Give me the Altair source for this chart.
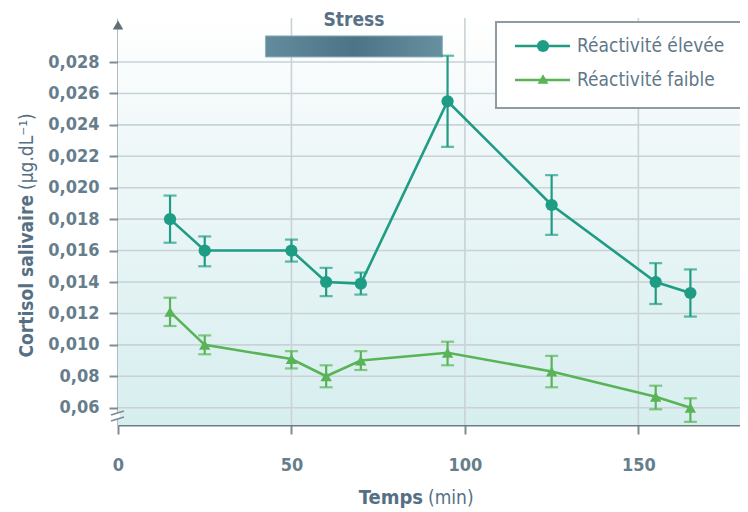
import altair as alt
import pandas as pd

# ---------------- data ----------------
time = [15, 25, 50, 60, 70, 95, 125, 155, 165]
high_mean = [0.0180, 0.0160, 0.0160, 0.0140, 0.0139, 0.0255, 0.0189, 0.0140, 0.0133]
high_lo = [0.0165, 0.0150, 0.0153, 0.0131, 0.0132, 0.0226, 0.0170, 0.0126, 0.0118]
high_hi = [0.0195, 0.0169, 0.0167, 0.0149, 0.0146, 0.0284, 0.0208, 0.0152, 0.0148]
low_mean = [0.0121, 0.0100, 0.0091, 0.0080, 0.0090, 0.0095, 0.0083, 0.0067, 0.0060]
low_lo = [0.0112, 0.0094, 0.0085, 0.0073, 0.0084, 0.0087, 0.0073, 0.0059, 0.0051]
low_hi = [0.0130, 0.0106, 0.0096, 0.0087, 0.0096, 0.0102, 0.0093, 0.0074, 0.0066]
series_names = ["Réactivité élevée", "Réactivité faible"]

y_tick_values = [0.006, 0.008, 0.010, 0.012, 0.014, 0.016, 0.018, 0.020, 0.022, 0.024, 0.026, 0.028]
y_tick_labels = ["0,06", "0,08", "0,010", "0,012", "0,014", "0,016", "0,018", "0,020",
                 "0,022", "0,024", "0,026", "0,028"]
x_tick_values = [0, 50, 100, 150]
x_grid_values = [50, 100, 150]

stress_start, stress_end = 42.5, 93.5
stress_label = "Stress"

# ---------------- style ----------------
W, H = 622, 407
FONT = "Liberation Sans Narrow, DejaVu Sans Condensed, DejaVu Sans, sans-serif"
C_HIGH = "#1f9c84"
C_LOW = "#58b456"
C_TEXT = "#667d8c"
C_TITLE = "#557084"
C_GRID = "#c9d2d7"
C_AXIS = "#7d8d96"

xscale = alt.Scale(domain=[0, 179.3], nice=False, zero=False)
yscale = alt.Scale(domain=[0.0049, 0.0308], nice=False, zero=False)

label_map = "{" + ",".join(f"'{v:.3f}':'{l}'" for v, l in zip(y_tick_values, y_tick_labels)) + "}"
label_expr = f"{label_map}[format(datum.value, '.3f')]"

XAXIS = alt.Axis(values=x_tick_values, grid=False, title=None, domainColor="#6c7c85",
                 domainWidth=2.2, tickColor=C_AXIS, tickWidth=2, tickSize=9,
                 labelFont=FONT, labelFontSize=18, labelColor=C_TEXT, labelFlush=False,
                 labelPadding=22, labelFontWeight="bold")
YAXIS = alt.Axis(values=y_tick_values, grid=False, title=None, labelExpr=label_expr,
                 domainColor=C_AXIS, domainWidth=2.2, tickColor=C_AXIS, tickWidth=2,
                 tickSize=9, labelFont=FONT, labelFontSize=18, labelColor=C_TEXT,
                 labelPadding=10, labelFontWeight="bold")


def X(field):
    return alt.X(field, scale=xscale, axis=XAXIS)


def Y(field):
    return alt.Y(field, scale=yscale, axis=YAXIS)


rows = []
for i, t in enumerate(time):
    rows.append({"t": t, "serie": series_names[0], "m": high_mean[i], "lo": high_lo[i], "hi": high_hi[i]})
for i, t in enumerate(time):
    rows.append({"t": t, "serie": series_names[1], "m": low_mean[i], "lo": low_lo[i], "hi": low_hi[i]})
df = pd.DataFrame(rows)
df_high = df[df.serie == series_names[0]]
df_low = df[df.serie == series_names[1]]

one = pd.DataFrame({"a": [0]})

# background gradient
bg = alt.Chart(one).mark_rect(
    fill=alt.LinearGradient(gradient="linear",
                            stops=[alt.GradientStop(color="#ffffff", offset=0),
                                   alt.GradientStop(color="#f0f8f9", offset=0.3),
                                   alt.GradientStop(color="#d7eeef", offset=1)],
                            x1=0, x2=0, y1=0, y2=1)
).encode(x=alt.value(0), x2=alt.value(W), y=alt.value(0), y2=alt.value(H))

hgrid = alt.Chart(pd.DataFrame({"v": y_tick_values})).mark_rule(
    color=C_GRID, strokeWidth=1.6).encode(y=Y("v:Q"))
vgrid = alt.Chart(pd.DataFrame({"v": x_grid_values})).mark_rule(
    color=C_GRID, strokeWidth=1.6).encode(x=X("v:Q"))


def series_layers(d, color, shape, size):
    line = alt.Chart(d).mark_line(color=color, strokeWidth=2.6).encode(x=X("t:Q"), y=Y("m:Q"))
    err = alt.Chart(d).mark_rule(color=color, strokeWidth=2.2).encode(x=X("t:Q"), y=Y("lo:Q"), y2="hi:Q")
    cap_lo = alt.Chart(d).mark_tick(color=color, orient="horizontal", size=13, thickness=2.2).encode(
        x=X("t:Q"), y=Y("lo:Q"))
    cap_hi = alt.Chart(d).mark_tick(color=color, orient="horizontal", size=13, thickness=2.2).encode(
        x=X("t:Q"), y=Y("hi:Q"))
    pts = alt.Chart(d).mark_point(filled=True, opacity=1, color=color, shape=shape, size=size).encode(
        x=X("t:Q"), y=Y("m:Q"))
    return [line, err, cap_lo, cap_hi, pts]


# stress bar
stress_df = pd.DataFrame({"s": [stress_start], "e": [stress_end], "y1": [0.02832], "y2": [0.02966],
                          "mid": [(stress_start + stress_end) / 2], "ty": [0.03068], "lab": [stress_label]})
stress_bar = alt.Chart(stress_df).mark_rect(
    fill=alt.LinearGradient(gradient="linear",
                            stops=[alt.GradientStop(color="#628c9d", offset=0),
                                   alt.GradientStop(color="#4d7386", offset=0.5),
                                   alt.GradientStop(color="#6690a0", offset=1)],
                            x1=0, x2=1, y1=0, y2=0),
    stroke="#8fb0bd", strokeWidth=1
).encode(x=X("s:Q"), x2="e:Q", y=Y("y1:Q"), y2="y2:Q")
stress_text = alt.Chart(stress_df).mark_text(
    font=FONT, fontSize=19, fontWeight="bold", color="#587185", baseline="middle"
).encode(x=X("mid:Q"), y=Y("ty:Q"), text="lab:N")

# arrow on y axis and axis break
arrow = alt.Chart(one).mark_point(shape="triangle-up", filled=True, opacity=1, color="#5f6f78",
                                  size=110).encode(x=alt.value(0), y=alt.value(7))
brk_gap = alt.Chart(one).mark_rect(fill="#ffffff").encode(
    x=alt.value(-7), x2=alt.value(2), y=alt.value(395), y2=alt.value(401))
brk1 = alt.Chart(one).mark_rule(color=C_AXIS, strokeWidth=1.8).encode(
    x=alt.value(-7), x2=alt.value(6), y=alt.value(397), y2=alt.value(393))
brk2 = alt.Chart(one).mark_rule(color=C_AXIS, strokeWidth=1.8).encode(
    x=alt.value(-7), x2=alt.value(6), y=alt.value(403), y2=alt.value(399))

# legend (hand-drawn box)
leg_df = pd.DataFrame({"lab": series_names, "ly": [28, 62]})
leg_box = alt.Chart(one).mark_rect(fill="#ffffff", stroke="#8e9ba2", strokeWidth=2).encode(
    x=alt.value(378), x2=alt.value(640), y=alt.value(4), y2=alt.value(90))
leg_lines = [
    alt.Chart(one).mark_rule(color=C_HIGH, strokeWidth=2.6).encode(
        x=alt.value(397), x2=alt.value(452), y=alt.value(28)),
    alt.Chart(one).mark_rule(color=C_LOW, strokeWidth=2.6).encode(
        x=alt.value(397), x2=alt.value(452), y=alt.value(62)),
    alt.Chart(one).mark_point(filled=True, opacity=1, color=C_HIGH, shape="circle", size=150).encode(
        x=alt.value(425), y=alt.value(28)),
    alt.Chart(one).mark_point(filled=True, opacity=1, color=C_LOW, shape="triangle-up", size=120).encode(
        x=alt.value(425), y=alt.value(61)),
]
leg_text = alt.Chart(leg_df).mark_text(font=FONT, fontSize=19, color="#5f7889", align="left",
                                       baseline="middle").encode(
    x=alt.value(459), y=alt.Y("ly:Q", scale=None), text="lab:N")

# axis titles
ytitle_b = alt.Chart(one).mark_text(text="Cortisol salivaire", font=FONT, fontSize=19, fontWeight="bold",
                                    color=C_TITLE, angle=270, align="right", baseline="middle").encode(
    x=alt.value(-91), y=alt.value(177))
ytitle_r = alt.Chart(one).mark_text(text="(µg.dL⁻¹)", font=FONT, fontSize=19, color=C_TITLE,
                                    angle=270, align="left", baseline="middle").encode(
    x=alt.value(-91), y=alt.value(172))
xtitle_b = alt.Chart(one).mark_text(text="Temps", font=FONT, fontSize=20, fontWeight="bold",
                                    color=C_TITLE, align="right", baseline="middle").encode(
    x=alt.value(305), y=alt.value(480))
xtitle_r = alt.Chart(one).mark_text(text="(min)", font=FONT, fontSize=19, color=C_TITLE,
                                    align="left", baseline="middle").encode(
    x=alt.value(310), y=alt.value(480))

layers = [bg, hgrid, vgrid, stress_bar, stress_text]
layers += series_layers(df_low, C_LOW, "triangle-up", 130)
layers += series_layers(df_high, C_HIGH, "circle", 150)
layers += [arrow, brk_gap, brk1, brk2, leg_box] + leg_lines + [leg_text, ytitle_b, ytitle_r, xtitle_b, xtitle_r]

chart = alt.layer(*layers).properties(
    width=W, height=H,
    autosize=alt.AutoSizeParams(type="none"),
    padding={"left": 110, "top": 10, "right": 0, "bottom": 87},
    background="#ffffff",
).configure_view(stroke=None)

chart.save("out.html", embed_options={"renderer": "svg", "actions": False})
